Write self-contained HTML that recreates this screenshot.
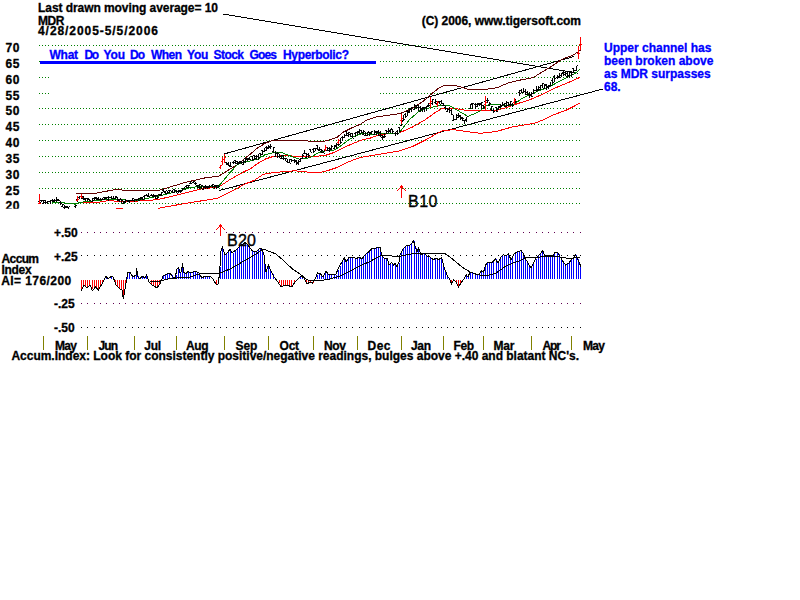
<!DOCTYPE html>
<html><head><meta charset="utf-8"><title>MDR chart</title>
<style>
html,body{margin:0;padding:0;background:#fff;}
svg{display:block;font-family:"Liberation Sans",sans-serif;}
</style></head>
<body>
<svg width="800" height="600" viewBox="0 0 800 600" shape-rendering="crispEdges">
<rect width="800" height="600" fill="#fff"/>
<clipPath id="c"><rect x="0" y="0" width="800" height="208.8"/></clipPath>
<path d="M39 45.5h1M42 45.5h1M45 45.5h1M48 45.5h1M52 45.5h1M55 45.5h1M58 45.5h1M61 45.5h1M64 45.5h1M67 45.5h1M71 45.5h1M74 45.5h1M77 45.5h1M80 45.5h1M83 45.5h1M86 45.5h1M89 45.5h1M93 45.5h1M96 45.5h1M99 45.5h1M102 45.5h1M105 45.5h1M108 45.5h1M112 45.5h1M115 45.5h1M118 45.5h1M121 45.5h1M124 45.5h1M127 45.5h1M131 45.5h1M134 45.5h1M137 45.5h1M140 45.5h1M143 45.5h1M146 45.5h1M149 45.5h1M153 45.5h1M156 45.5h1M159 45.5h1M162 45.5h1M165 45.5h1M168 45.5h1M172 45.5h1M175 45.5h1M178 45.5h1M181 45.5h1M184 45.5h1M187 45.5h1M190 45.5h1M194 45.5h1M197 45.5h1M200 45.5h1M203 45.5h1M206 45.5h1M209 45.5h1M213 45.5h1M216 45.5h1M219 45.5h1M222 45.5h1M225 45.5h1M228 45.5h1M232 45.5h1M235 45.5h1M238 45.5h1M241 45.5h1M244 45.5h1M247 45.5h1M250 45.5h1M254 45.5h1M257 45.5h1M260 45.5h1M263 45.5h1M266 45.5h1M269 45.5h1M273 45.5h1M276 45.5h1M279 45.5h1M282 45.5h1M285 45.5h1M288 45.5h1M291 45.5h1M295 45.5h1M298 45.5h1M301 45.5h1M304 45.5h1M307 45.5h1M310 45.5h1M314 45.5h1M317 45.5h1M320 45.5h1M323 45.5h1M326 45.5h1M329 45.5h1M333 45.5h1M336 45.5h1M339 45.5h1M342 45.5h1M345 45.5h1M348 45.5h1M351 45.5h1M355 45.5h1M358 45.5h1M361 45.5h1M364 45.5h1M367 45.5h1M370 45.5h1M374 45.5h1M377 45.5h1M380 45.5h1M383 45.5h1M386 45.5h1M389 45.5h1M392 45.5h1M396 45.5h1M399 45.5h1M402 45.5h1M405 45.5h1M408 45.5h1M411 45.5h1M415 45.5h1M418 45.5h1M421 45.5h1M424 45.5h1M427 45.5h1M430 45.5h1M434 45.5h1M437 45.5h1M440 45.5h1M443 45.5h1M446 45.5h1M449 45.5h1M452 45.5h1M456 45.5h1M459 45.5h1M462 45.5h1M465 45.5h1M468 45.5h1M471 45.5h1M475 45.5h1M478 45.5h1M481 45.5h1M484 45.5h1M487 45.5h1M490 45.5h1M493 45.5h1M497 45.5h1M500 45.5h1M503 45.5h1M506 45.5h1M509 45.5h1M512 45.5h1M516 45.5h1M519 45.5h1M522 45.5h1M525 45.5h1M528 45.5h1M531 45.5h1M534 45.5h1M538 45.5h1M541 45.5h1M544 45.5h1M547 45.5h1M550 45.5h1M553 45.5h1M557 45.5h1M560 45.5h1M563 45.5h1M566 45.5h1M569 45.5h1M572 45.5h1M576 45.5h1M579 45.5h1" stroke="#008000" stroke-width="1"/>
<path d="M39 61.5h1M380 61.5h1M383 61.5h1M386 61.5h1M389 61.5h1M392 61.5h1M396 61.5h1M399 61.5h1M402 61.5h1M405 61.5h1M408 61.5h1M411 61.5h1M415 61.5h1M418 61.5h1M421 61.5h1M424 61.5h1M427 61.5h1M430 61.5h1M434 61.5h1M437 61.5h1M440 61.5h1M443 61.5h1M446 61.5h1M449 61.5h1M452 61.5h1M456 61.5h1M459 61.5h1M462 61.5h1M465 61.5h1M468 61.5h1M471 61.5h1M475 61.5h1M478 61.5h1M481 61.5h1M484 61.5h1M487 61.5h1M490 61.5h1M493 61.5h1M497 61.5h1M500 61.5h1M503 61.5h1M506 61.5h1M509 61.5h1M512 61.5h1M516 61.5h1M519 61.5h1M522 61.5h1M525 61.5h1M528 61.5h1M531 61.5h1M534 61.5h1M538 61.5h1M541 61.5h1M544 61.5h1M547 61.5h1M550 61.5h1M553 61.5h1M557 61.5h1M560 61.5h1M563 61.5h1M566 61.5h1M569 61.5h1M572 61.5h1M576 61.5h1M579 61.5h1" stroke="#008000" stroke-width="1"/>
<path d="M39 77.5h1M42 77.5h1M45 77.5h1M48 77.5h1M380 77.5h1M383 77.5h1M386 77.5h1M389 77.5h1M392 77.5h1M396 77.5h1M399 77.5h1M402 77.5h1M405 77.5h1M408 77.5h1M411 77.5h1M415 77.5h1M418 77.5h1M421 77.5h1M424 77.5h1M427 77.5h1M430 77.5h1M434 77.5h1M437 77.5h1M440 77.5h1M443 77.5h1M446 77.5h1M449 77.5h1M452 77.5h1M456 77.5h1M459 77.5h1M462 77.5h1M465 77.5h1M468 77.5h1M471 77.5h1M475 77.5h1M478 77.5h1M481 77.5h1M484 77.5h1M487 77.5h1M490 77.5h1M493 77.5h1M497 77.5h1M500 77.5h1M503 77.5h1M506 77.5h1M509 77.5h1M512 77.5h1M516 77.5h1M519 77.5h1M522 77.5h1M525 77.5h1M528 77.5h1M531 77.5h1M534 77.5h1M538 77.5h1M541 77.5h1M544 77.5h1M547 77.5h1M550 77.5h1M553 77.5h1M557 77.5h1M560 77.5h1M563 77.5h1M566 77.5h1M569 77.5h1M572 77.5h1M576 77.5h1M579 77.5h1" stroke="#008000" stroke-width="1"/>
<path d="M39 93.5h1M42 93.5h1M45 93.5h1M48 93.5h1M380 93.5h1M383 93.5h1M386 93.5h1M389 93.5h1M392 93.5h1M396 93.5h1M399 93.5h1M402 93.5h1M405 93.5h1M408 93.5h1M411 93.5h1M415 93.5h1M418 93.5h1M421 93.5h1M424 93.5h1M427 93.5h1M430 93.5h1M434 93.5h1M437 93.5h1M440 93.5h1M443 93.5h1M446 93.5h1M449 93.5h1M452 93.5h1M456 93.5h1M459 93.5h1M462 93.5h1M465 93.5h1M468 93.5h1M471 93.5h1M475 93.5h1M478 93.5h1M481 93.5h1M484 93.5h1M487 93.5h1M490 93.5h1M493 93.5h1M497 93.5h1M500 93.5h1M503 93.5h1M506 93.5h1M509 93.5h1M512 93.5h1M516 93.5h1M519 93.5h1M522 93.5h1M525 93.5h1M528 93.5h1M531 93.5h1M534 93.5h1M538 93.5h1M541 93.5h1M544 93.5h1M547 93.5h1M550 93.5h1M553 93.5h1M557 93.5h1M560 93.5h1M563 93.5h1M566 93.5h1M569 93.5h1M572 93.5h1M576 93.5h1M579 93.5h1" stroke="#008000" stroke-width="1"/>
<path d="M39 108.5h1M42 108.5h1M45 108.5h1M48 108.5h1M52 108.5h1M55 108.5h1M58 108.5h1M61 108.5h1M64 108.5h1M67 108.5h1M71 108.5h1M74 108.5h1M77 108.5h1M80 108.5h1M83 108.5h1M86 108.5h1M89 108.5h1M93 108.5h1M96 108.5h1M99 108.5h1M102 108.5h1M105 108.5h1M108 108.5h1M112 108.5h1M115 108.5h1M118 108.5h1M121 108.5h1M124 108.5h1M127 108.5h1M131 108.5h1M134 108.5h1M137 108.5h1M140 108.5h1M143 108.5h1M146 108.5h1M149 108.5h1M153 108.5h1M156 108.5h1M159 108.5h1M162 108.5h1M165 108.5h1M168 108.5h1M172 108.5h1M175 108.5h1M178 108.5h1M181 108.5h1M184 108.5h1M187 108.5h1M190 108.5h1M194 108.5h1M197 108.5h1M200 108.5h1M203 108.5h1M206 108.5h1M209 108.5h1M213 108.5h1M216 108.5h1M219 108.5h1M222 108.5h1M225 108.5h1M228 108.5h1M232 108.5h1M235 108.5h1M238 108.5h1M241 108.5h1M244 108.5h1M247 108.5h1M250 108.5h1M254 108.5h1M257 108.5h1M260 108.5h1M263 108.5h1M266 108.5h1M269 108.5h1M273 108.5h1M276 108.5h1M279 108.5h1M282 108.5h1M285 108.5h1M288 108.5h1M291 108.5h1M295 108.5h1M298 108.5h1M301 108.5h1M304 108.5h1M307 108.5h1M310 108.5h1M314 108.5h1M317 108.5h1M320 108.5h1M323 108.5h1M326 108.5h1M329 108.5h1M333 108.5h1M336 108.5h1M339 108.5h1M342 108.5h1M345 108.5h1M348 108.5h1M351 108.5h1M355 108.5h1M358 108.5h1M361 108.5h1M364 108.5h1M367 108.5h1M370 108.5h1M374 108.5h1M377 108.5h1M380 108.5h1M383 108.5h1M386 108.5h1M389 108.5h1M392 108.5h1M396 108.5h1M399 108.5h1M402 108.5h1M405 108.5h1M408 108.5h1M411 108.5h1M415 108.5h1M418 108.5h1M421 108.5h1M424 108.5h1M427 108.5h1M430 108.5h1M434 108.5h1M437 108.5h1M440 108.5h1M443 108.5h1M446 108.5h1M449 108.5h1M452 108.5h1M456 108.5h1M459 108.5h1M462 108.5h1M465 108.5h1M468 108.5h1M471 108.5h1M475 108.5h1M478 108.5h1M481 108.5h1M484 108.5h1M487 108.5h1M490 108.5h1M493 108.5h1M497 108.5h1M500 108.5h1M503 108.5h1M506 108.5h1M509 108.5h1M512 108.5h1M516 108.5h1M519 108.5h1M522 108.5h1M525 108.5h1M528 108.5h1M531 108.5h1M534 108.5h1M538 108.5h1M541 108.5h1M544 108.5h1M547 108.5h1M550 108.5h1M553 108.5h1M557 108.5h1M560 108.5h1M563 108.5h1M566 108.5h1M569 108.5h1M572 108.5h1M576 108.5h1M579 108.5h1" stroke="#008000" stroke-width="1"/>
<path d="M39 124.5h1M42 124.5h1M45 124.5h1M48 124.5h1M52 124.5h1M55 124.5h1M58 124.5h1M61 124.5h1M64 124.5h1M67 124.5h1M71 124.5h1M74 124.5h1M77 124.5h1M80 124.5h1M83 124.5h1M86 124.5h1M89 124.5h1M93 124.5h1M96 124.5h1M99 124.5h1M102 124.5h1M105 124.5h1M108 124.5h1M112 124.5h1M115 124.5h1M118 124.5h1M121 124.5h1M124 124.5h1M127 124.5h1M131 124.5h1M134 124.5h1M137 124.5h1M140 124.5h1M143 124.5h1M146 124.5h1M149 124.5h1M153 124.5h1M156 124.5h1M159 124.5h1M162 124.5h1M165 124.5h1M168 124.5h1M172 124.5h1M175 124.5h1M178 124.5h1M181 124.5h1M184 124.5h1M187 124.5h1M190 124.5h1M194 124.5h1M197 124.5h1M200 124.5h1M203 124.5h1M206 124.5h1M209 124.5h1M213 124.5h1M216 124.5h1M219 124.5h1M222 124.5h1M225 124.5h1M228 124.5h1M232 124.5h1M235 124.5h1M238 124.5h1M241 124.5h1M244 124.5h1M247 124.5h1M250 124.5h1M254 124.5h1M257 124.5h1M260 124.5h1M263 124.5h1M266 124.5h1M269 124.5h1M273 124.5h1M276 124.5h1M279 124.5h1M282 124.5h1M285 124.5h1M288 124.5h1M291 124.5h1M295 124.5h1M298 124.5h1M301 124.5h1M304 124.5h1M307 124.5h1M310 124.5h1M314 124.5h1M317 124.5h1M320 124.5h1M323 124.5h1M326 124.5h1M329 124.5h1M333 124.5h1M336 124.5h1M339 124.5h1M342 124.5h1M345 124.5h1M348 124.5h1M351 124.5h1M355 124.5h1M358 124.5h1M361 124.5h1M364 124.5h1M367 124.5h1M370 124.5h1M374 124.5h1M377 124.5h1M380 124.5h1M383 124.5h1M386 124.5h1M389 124.5h1M392 124.5h1M396 124.5h1M399 124.5h1M402 124.5h1M405 124.5h1M408 124.5h1M411 124.5h1M415 124.5h1M418 124.5h1M421 124.5h1M424 124.5h1M427 124.5h1M430 124.5h1M434 124.5h1M437 124.5h1M440 124.5h1M443 124.5h1M446 124.5h1M449 124.5h1M452 124.5h1M456 124.5h1M459 124.5h1M462 124.5h1M465 124.5h1M468 124.5h1M471 124.5h1M475 124.5h1M478 124.5h1M481 124.5h1M484 124.5h1M487 124.5h1M490 124.5h1M493 124.5h1M497 124.5h1M500 124.5h1M503 124.5h1M506 124.5h1M509 124.5h1M512 124.5h1M516 124.5h1M519 124.5h1M522 124.5h1M525 124.5h1M528 124.5h1M531 124.5h1M534 124.5h1M538 124.5h1M541 124.5h1M544 124.5h1M547 124.5h1M550 124.5h1M553 124.5h1M557 124.5h1M560 124.5h1M563 124.5h1M566 124.5h1M569 124.5h1M572 124.5h1M576 124.5h1M579 124.5h1" stroke="#008000" stroke-width="1"/>
<path d="M39 140.5h1M42 140.5h1M45 140.5h1M48 140.5h1M52 140.5h1M55 140.5h1M58 140.5h1M61 140.5h1M64 140.5h1M67 140.5h1M71 140.5h1M74 140.5h1M77 140.5h1M80 140.5h1M83 140.5h1M86 140.5h1M89 140.5h1M93 140.5h1M96 140.5h1M99 140.5h1M102 140.5h1M105 140.5h1M108 140.5h1M112 140.5h1M115 140.5h1M118 140.5h1M121 140.5h1M124 140.5h1M127 140.5h1M131 140.5h1M134 140.5h1M137 140.5h1M140 140.5h1M143 140.5h1M146 140.5h1M149 140.5h1M153 140.5h1M156 140.5h1M159 140.5h1M162 140.5h1M165 140.5h1M168 140.5h1M172 140.5h1M175 140.5h1M178 140.5h1M181 140.5h1M184 140.5h1M187 140.5h1M190 140.5h1M194 140.5h1M197 140.5h1M200 140.5h1M203 140.5h1M206 140.5h1M209 140.5h1M213 140.5h1M216 140.5h1M219 140.5h1M222 140.5h1M225 140.5h1M228 140.5h1M232 140.5h1M235 140.5h1M238 140.5h1M241 140.5h1M244 140.5h1M247 140.5h1M250 140.5h1M254 140.5h1M257 140.5h1M260 140.5h1M263 140.5h1M266 140.5h1M269 140.5h1M273 140.5h1M276 140.5h1M279 140.5h1M282 140.5h1M285 140.5h1M288 140.5h1M291 140.5h1M295 140.5h1M298 140.5h1M301 140.5h1M304 140.5h1M307 140.5h1M310 140.5h1M314 140.5h1M317 140.5h1M320 140.5h1M323 140.5h1M326 140.5h1M329 140.5h1M333 140.5h1M336 140.5h1M339 140.5h1M342 140.5h1M345 140.5h1M348 140.5h1M351 140.5h1M355 140.5h1M358 140.5h1M361 140.5h1M364 140.5h1M367 140.5h1M370 140.5h1M374 140.5h1M377 140.5h1M380 140.5h1M383 140.5h1M386 140.5h1M389 140.5h1M392 140.5h1M396 140.5h1M399 140.5h1M402 140.5h1M405 140.5h1M408 140.5h1M411 140.5h1M415 140.5h1M418 140.5h1M421 140.5h1M424 140.5h1M427 140.5h1M430 140.5h1M434 140.5h1M437 140.5h1M440 140.5h1M443 140.5h1M446 140.5h1M449 140.5h1M452 140.5h1M456 140.5h1M459 140.5h1M462 140.5h1M465 140.5h1M468 140.5h1M471 140.5h1M475 140.5h1M478 140.5h1M481 140.5h1M484 140.5h1M487 140.5h1M490 140.5h1M493 140.5h1M497 140.5h1M500 140.5h1M503 140.5h1M506 140.5h1M509 140.5h1M512 140.5h1M516 140.5h1M519 140.5h1M522 140.5h1M525 140.5h1M528 140.5h1M531 140.5h1M534 140.5h1M538 140.5h1M541 140.5h1M544 140.5h1M547 140.5h1M550 140.5h1M553 140.5h1M557 140.5h1M560 140.5h1M563 140.5h1M566 140.5h1M569 140.5h1M572 140.5h1M576 140.5h1M579 140.5h1" stroke="#008000" stroke-width="1"/>
<path d="M39 156.5h1M42 156.5h1M45 156.5h1M48 156.5h1M52 156.5h1M55 156.5h1M58 156.5h1M61 156.5h1M64 156.5h1M67 156.5h1M71 156.5h1M74 156.5h1M77 156.5h1M80 156.5h1M83 156.5h1M86 156.5h1M89 156.5h1M93 156.5h1M96 156.5h1M99 156.5h1M102 156.5h1M105 156.5h1M108 156.5h1M112 156.5h1M115 156.5h1M118 156.5h1M121 156.5h1M124 156.5h1M127 156.5h1M131 156.5h1M134 156.5h1M137 156.5h1M140 156.5h1M143 156.5h1M146 156.5h1M149 156.5h1M153 156.5h1M156 156.5h1M159 156.5h1M162 156.5h1M165 156.5h1M168 156.5h1M172 156.5h1M175 156.5h1M178 156.5h1M181 156.5h1M184 156.5h1M187 156.5h1M190 156.5h1M194 156.5h1M197 156.5h1M200 156.5h1M203 156.5h1M206 156.5h1M209 156.5h1M213 156.5h1M216 156.5h1M219 156.5h1M222 156.5h1M225 156.5h1M228 156.5h1M232 156.5h1M235 156.5h1M238 156.5h1M241 156.5h1M244 156.5h1M247 156.5h1M250 156.5h1M254 156.5h1M257 156.5h1M260 156.5h1M263 156.5h1M266 156.5h1M269 156.5h1M273 156.5h1M276 156.5h1M279 156.5h1M282 156.5h1M285 156.5h1M288 156.5h1M291 156.5h1M295 156.5h1M298 156.5h1M301 156.5h1M304 156.5h1M307 156.5h1M310 156.5h1M314 156.5h1M317 156.5h1M320 156.5h1M323 156.5h1M326 156.5h1M329 156.5h1M333 156.5h1M336 156.5h1M339 156.5h1M342 156.5h1M345 156.5h1M348 156.5h1M351 156.5h1M355 156.5h1M358 156.5h1M361 156.5h1M364 156.5h1M367 156.5h1M370 156.5h1M374 156.5h1M377 156.5h1M380 156.5h1M383 156.5h1M386 156.5h1M389 156.5h1M392 156.5h1M396 156.5h1M399 156.5h1M402 156.5h1M405 156.5h1M408 156.5h1M411 156.5h1M415 156.5h1M418 156.5h1M421 156.5h1M424 156.5h1M427 156.5h1M430 156.5h1M434 156.5h1M437 156.5h1M440 156.5h1M443 156.5h1M446 156.5h1M449 156.5h1M452 156.5h1M456 156.5h1M459 156.5h1M462 156.5h1M465 156.5h1M468 156.5h1M471 156.5h1M475 156.5h1M478 156.5h1M481 156.5h1M484 156.5h1M487 156.5h1M490 156.5h1M493 156.5h1M497 156.5h1M500 156.5h1M503 156.5h1M506 156.5h1M509 156.5h1M512 156.5h1M516 156.5h1M519 156.5h1M522 156.5h1M525 156.5h1M528 156.5h1M531 156.5h1M534 156.5h1M538 156.5h1M541 156.5h1M544 156.5h1M547 156.5h1M550 156.5h1M553 156.5h1M557 156.5h1M560 156.5h1M563 156.5h1M566 156.5h1M569 156.5h1M572 156.5h1M576 156.5h1M579 156.5h1" stroke="#008000" stroke-width="1"/>
<path d="M39 172.5h1M42 172.5h1M45 172.5h1M48 172.5h1M52 172.5h1M55 172.5h1M58 172.5h1M61 172.5h1M64 172.5h1M67 172.5h1M71 172.5h1M74 172.5h1M77 172.5h1M80 172.5h1M83 172.5h1M86 172.5h1M89 172.5h1M93 172.5h1M96 172.5h1M99 172.5h1M102 172.5h1M105 172.5h1M108 172.5h1M112 172.5h1M115 172.5h1M118 172.5h1M121 172.5h1M124 172.5h1M127 172.5h1M131 172.5h1M134 172.5h1M137 172.5h1M140 172.5h1M143 172.5h1M146 172.5h1M149 172.5h1M153 172.5h1M156 172.5h1M159 172.5h1M162 172.5h1M165 172.5h1M168 172.5h1M172 172.5h1M175 172.5h1M178 172.5h1M181 172.5h1M184 172.5h1M187 172.5h1M190 172.5h1M194 172.5h1M197 172.5h1M200 172.5h1M203 172.5h1M206 172.5h1M209 172.5h1M213 172.5h1M216 172.5h1M219 172.5h1M222 172.5h1M225 172.5h1M228 172.5h1M232 172.5h1M235 172.5h1M238 172.5h1M241 172.5h1M244 172.5h1M247 172.5h1M250 172.5h1M254 172.5h1M257 172.5h1M260 172.5h1M263 172.5h1M266 172.5h1M269 172.5h1M273 172.5h1M276 172.5h1M279 172.5h1M282 172.5h1M285 172.5h1M288 172.5h1M291 172.5h1M295 172.5h1M298 172.5h1M301 172.5h1M304 172.5h1M307 172.5h1M310 172.5h1M314 172.5h1M317 172.5h1M320 172.5h1M323 172.5h1M326 172.5h1M329 172.5h1M333 172.5h1M336 172.5h1M339 172.5h1M342 172.5h1M345 172.5h1M348 172.5h1M351 172.5h1M355 172.5h1M358 172.5h1M361 172.5h1M364 172.5h1M367 172.5h1M370 172.5h1M374 172.5h1M377 172.5h1M380 172.5h1M383 172.5h1M386 172.5h1M389 172.5h1M392 172.5h1M396 172.5h1M399 172.5h1M402 172.5h1M405 172.5h1M408 172.5h1M411 172.5h1M415 172.5h1M418 172.5h1M421 172.5h1M424 172.5h1M427 172.5h1M430 172.5h1M434 172.5h1M437 172.5h1M440 172.5h1M443 172.5h1M446 172.5h1M449 172.5h1M452 172.5h1M456 172.5h1M459 172.5h1M462 172.5h1M465 172.5h1M468 172.5h1M471 172.5h1M475 172.5h1M478 172.5h1M481 172.5h1M484 172.5h1M487 172.5h1M490 172.5h1M493 172.5h1M497 172.5h1M500 172.5h1M503 172.5h1M506 172.5h1M509 172.5h1M512 172.5h1M516 172.5h1M519 172.5h1M522 172.5h1M525 172.5h1M528 172.5h1M531 172.5h1M534 172.5h1M538 172.5h1M541 172.5h1M544 172.5h1M547 172.5h1M550 172.5h1M553 172.5h1M557 172.5h1M560 172.5h1M563 172.5h1M566 172.5h1M569 172.5h1M572 172.5h1M576 172.5h1M579 172.5h1" stroke="#008000" stroke-width="1"/>
<path d="M39 188.5h1M42 188.5h1M45 188.5h1M48 188.5h1M52 188.5h1M55 188.5h1M58 188.5h1M61 188.5h1M64 188.5h1M67 188.5h1M71 188.5h1M74 188.5h1M77 188.5h1M80 188.5h1M83 188.5h1M86 188.5h1M89 188.5h1M93 188.5h1M96 188.5h1M99 188.5h1M102 188.5h1M105 188.5h1M108 188.5h1M112 188.5h1M115 188.5h1M118 188.5h1M121 188.5h1M124 188.5h1M127 188.5h1M131 188.5h1M134 188.5h1M137 188.5h1M140 188.5h1M143 188.5h1M146 188.5h1M149 188.5h1M153 188.5h1M156 188.5h1M159 188.5h1M162 188.5h1M165 188.5h1M168 188.5h1M172 188.5h1M175 188.5h1M178 188.5h1M181 188.5h1M184 188.5h1M187 188.5h1M190 188.5h1M194 188.5h1M197 188.5h1M200 188.5h1M203 188.5h1M206 188.5h1M209 188.5h1M213 188.5h1M216 188.5h1M219 188.5h1M222 188.5h1M225 188.5h1M228 188.5h1M232 188.5h1M235 188.5h1M238 188.5h1M241 188.5h1M244 188.5h1M247 188.5h1M250 188.5h1M254 188.5h1M257 188.5h1M260 188.5h1M263 188.5h1M266 188.5h1M269 188.5h1M273 188.5h1M276 188.5h1M279 188.5h1M282 188.5h1M285 188.5h1M288 188.5h1M291 188.5h1M295 188.5h1M298 188.5h1M301 188.5h1M304 188.5h1M307 188.5h1M310 188.5h1M314 188.5h1M317 188.5h1M320 188.5h1M323 188.5h1M326 188.5h1M329 188.5h1M333 188.5h1M336 188.5h1M339 188.5h1M342 188.5h1M345 188.5h1M348 188.5h1M351 188.5h1M355 188.5h1M358 188.5h1M361 188.5h1M364 188.5h1M367 188.5h1M370 188.5h1M374 188.5h1M377 188.5h1M380 188.5h1M383 188.5h1M386 188.5h1M389 188.5h1M392 188.5h1M396 188.5h1M399 188.5h1M402 188.5h1M405 188.5h1M408 188.5h1M411 188.5h1M415 188.5h1M418 188.5h1M421 188.5h1M424 188.5h1M427 188.5h1M430 188.5h1M434 188.5h1M437 188.5h1M440 188.5h1M443 188.5h1M446 188.5h1M449 188.5h1M452 188.5h1M456 188.5h1M459 188.5h1M462 188.5h1M465 188.5h1M468 188.5h1M471 188.5h1M475 188.5h1M478 188.5h1M481 188.5h1M484 188.5h1M487 188.5h1M490 188.5h1M493 188.5h1M497 188.5h1M500 188.5h1M503 188.5h1M506 188.5h1M509 188.5h1M512 188.5h1M516 188.5h1M519 188.5h1M522 188.5h1M525 188.5h1M528 188.5h1M531 188.5h1M534 188.5h1M538 188.5h1M541 188.5h1M544 188.5h1M547 188.5h1M550 188.5h1M553 188.5h1M557 188.5h1M560 188.5h1M563 188.5h1M566 188.5h1M569 188.5h1M572 188.5h1M576 188.5h1M579 188.5h1" stroke="#008000" stroke-width="1"/>
<path d="M39 203.5h1M42 203.5h1M45 203.5h1M48 203.5h1M52 203.5h1M55 203.5h1M58 203.5h1M61 203.5h1M64 203.5h1M67 203.5h1M71 203.5h1M74 203.5h1M77 203.5h1M80 203.5h1M83 203.5h1M86 203.5h1M89 203.5h1M93 203.5h1M96 203.5h1M99 203.5h1M102 203.5h1M105 203.5h1M108 203.5h1M112 203.5h1M115 203.5h1M118 203.5h1M121 203.5h1M124 203.5h1M127 203.5h1M131 203.5h1M134 203.5h1M137 203.5h1M140 203.5h1M143 203.5h1M146 203.5h1M149 203.5h1M153 203.5h1M156 203.5h1M159 203.5h1M162 203.5h1M165 203.5h1M168 203.5h1M172 203.5h1M175 203.5h1M178 203.5h1M181 203.5h1M184 203.5h1M187 203.5h1M190 203.5h1M194 203.5h1M197 203.5h1M200 203.5h1M203 203.5h1M206 203.5h1M209 203.5h1M213 203.5h1M216 203.5h1M219 203.5h1M222 203.5h1M225 203.5h1M228 203.5h1M232 203.5h1M235 203.5h1M238 203.5h1M241 203.5h1M244 203.5h1M247 203.5h1M250 203.5h1M254 203.5h1M257 203.5h1M260 203.5h1M263 203.5h1M266 203.5h1M269 203.5h1M273 203.5h1M276 203.5h1M279 203.5h1M282 203.5h1M285 203.5h1M288 203.5h1M291 203.5h1M295 203.5h1M298 203.5h1M301 203.5h1M304 203.5h1M307 203.5h1M310 203.5h1M314 203.5h1M317 203.5h1M320 203.5h1M323 203.5h1M326 203.5h1M329 203.5h1M333 203.5h1M336 203.5h1M339 203.5h1M342 203.5h1M345 203.5h1M348 203.5h1M351 203.5h1M355 203.5h1M358 203.5h1M361 203.5h1M364 203.5h1M367 203.5h1M370 203.5h1M374 203.5h1M377 203.5h1M380 203.5h1M383 203.5h1M386 203.5h1M389 203.5h1M392 203.5h1M396 203.5h1M399 203.5h1M402 203.5h1M405 203.5h1M408 203.5h1M411 203.5h1M415 203.5h1M418 203.5h1M421 203.5h1M424 203.5h1M427 203.5h1M430 203.5h1M434 203.5h1M437 203.5h1M440 203.5h1M443 203.5h1M446 203.5h1M449 203.5h1M452 203.5h1M456 203.5h1M459 203.5h1M462 203.5h1M465 203.5h1M468 203.5h1M471 203.5h1M475 203.5h1M478 203.5h1M481 203.5h1M484 203.5h1M487 203.5h1M490 203.5h1M493 203.5h1M497 203.5h1M500 203.5h1M503 203.5h1M506 203.5h1M509 203.5h1M512 203.5h1M516 203.5h1M519 203.5h1M522 203.5h1M525 203.5h1M528 203.5h1M531 203.5h1M534 203.5h1M538 203.5h1M541 203.5h1M544 203.5h1M547 203.5h1M550 203.5h1M553 203.5h1M557 203.5h1M560 203.5h1M563 203.5h1M566 203.5h1M569 203.5h1M572 203.5h1M576 203.5h1M579 203.5h1" stroke="#008000" stroke-width="1"/>
<line x1="223" y1="14" x2="578" y2="73.2" stroke="#000" stroke-width="1"/>
<line x1="224" y1="154" x2="574" y2="56.5" stroke="#000" stroke-width="1"/>
<line x1="219.5" y1="190.5" x2="603" y2="89" stroke="#000" stroke-width="1"/>
<polyline points="75.7,193.2 96.0,193.2 117.0,189.2 123.0,190.2 158.0,190.7 185.0,182.5 204.5,178.0 218.7,176.2 237.5,164.5 250.0,154.3 257.5,148.0 265.0,143.5 272.5,140.5 307.0,140.5 310.0,141.7 322.0,141.7 328.0,140.2 337.0,137.5 343.0,132.2 352.0,127.7 361.0,124.0 365.5,120.7 375.0,117.2 390.0,115.0 400.5,113.5 412.5,108.2 423.0,101.5 430.5,94.7 438.0,88.7 444.0,85.3 453.0,85.0 459.0,86.5 468.0,89.2 477.5,89.2 485.0,89.5 497.0,87.7 507.5,83.2 519.5,80.2 533.0,77.7 542.0,72.0 551.0,66.7 560.0,60.7 565.0,58.1 570.0,56.5 574.0,54.7 577.0,52.5 580.4,50.0" fill="none" stroke="#600000" stroke-width="1" />
<polyline points="116.0,208.2 123.0,208.2" fill="none" stroke="#ff0000" stroke-width="1" />
<polyline points="158.0,208.3 185.0,203.5 218.0,198.2 230.0,192.2 245.0,184.0 254.5,180.2 263.5,174.2 272.5,172.7 283.0,171.7 295.0,170.8 307.0,172.0 322.0,172.0 328.0,170.5 337.0,167.5 346.0,163.0 355.0,159.2 364.0,156.7 372.0,155.5 399.0,151.0 412.5,146.5 424.5,140.5 438.0,133.0 442.0,131.0 453.5,129.6 467.0,131.6 480.5,133.3 496.0,131.6 512.0,127.0 534.5,123.3 543.5,119.7 554.0,114.7 566.0,110.2 575.0,105.7 580.2,103.0" fill="none" stroke="#ff0000" stroke-width="1" />
<polyline points="81.0,202.9 99.0,202.9 100.0,201.9 108.0,200.8 120.0,201.2 140.0,201.0 158.0,199.6 185.0,193.0 203.0,188.5 218.0,187.5 230.0,179.5 245.0,171.2 250.0,169.0 257.5,163.7 265.0,159.2 272.5,156.7 283.0,155.5 295.0,156.2 310.0,156.7 325.0,155.5 334.0,152.5 346.0,146.5 355.0,142.7 362.0,140.0 370.0,138.2 379.5,134.5 399.0,133.0 412.5,127.0 424.5,120.2 435.0,112.7 442.5,108.2 453.0,108.2 465.0,110.2 480.0,110.8 485.0,111.0 497.0,110.2 507.5,107.2 518.0,103.5 530.0,99.7 542.0,94.5 554.0,88.5 563.0,84.7 572.0,81.0 580.2,77.2" fill="none" stroke="#ff0000" stroke-width="1" />
<polyline points="52.0,202.0 64.0,202.4 65.0,203.3 70.0,203.5 75.0,204.2 81.0,202.2 90.0,201.2 105.0,199.7 117.0,199.0 126.0,200.0 135.0,200.7 144.0,199.2 150.0,197.7 162.5,195.2 177.5,191.5 189.5,187.7 197.0,186.7 218.0,187.0 230.0,172.7 237.5,164.5 245.0,162.2 257.5,159.2 265.0,154.7 274.0,152.5 281.5,152.5 289.0,155.5 299.5,159.2 310.0,157.7 317.5,153.2 325.0,151.0 334.0,150.2 340.0,146.5 349.0,139.7 355.0,136.0 362.5,133.3 370.0,134.5 379.5,133.7 399.0,133.0 409.5,119.5 420.0,110.5 430.5,107.5 441.0,105.2 450.0,106.0 459.0,111.2 468.0,116.5 479.0,111.7 485.0,106.5 489.5,104.2 500.0,105.0 513.5,105.0 521.0,99.0 530.0,94.5 539.0,90.7 548.0,87.7 557.0,82.5 566.0,78.0 575.0,73.5 580.2,69.3" fill="none" stroke="#008000" stroke-width="1" />
<path d="M39.5 200.3V203.7M39.5 202.3h1.5M39.5 201.8h-1.5M41.5 199.7V201.9M41.5 200.0h1.5M41.5 200.0h-1.5M43.5 199.8V202.8M43.5 202.0h1.5M43.5 203.0h-1.5M45.5 199.5V203.6M45.5 202.7h1.5M45.5 200.9h-1.5M47.5 201.3V203.5M47.5 201.5h1.5M47.5 202.5h-1.5M50.5 199.9V203.6M50.5 200.5h1.5M50.5 201.0h-1.5M52.5 199.1V202.2M52.5 200.5h1.5M52.5 200.0h-1.5M54.5 198.5V201.6M54.5 200.2h1.5M54.5 201.5h-1.5M56.5 197.2V201.5M56.5 199.0h1.5M56.5 200.2h-1.5M58.5 198.7V200.7M58.5 200.6h1.5M58.5 200.0h-1.5M60.5 201.2V204.8M60.5 203.1h1.5M60.5 202.7h-1.5M62.5 204.0V207.2M62.5 204.1h1.5M62.5 206.2h-1.5M64.5 205.3V209.0M64.5 206.7h1.5M64.5 207.6h-1.5M66.5 205.6V208.1M66.5 206.2h1.5M66.5 207.9h-1.5M68.5 206.6V208.7M68.5 206.4h1.5M68.5 207.4h-1.5M75.5 205.3V208.3M75.5 205.8h1.5M75.5 206.2h-1.5M77.5 198.6V202.4M77.5 199.5h1.5M77.5 199.6h-1.5M79.5 195.8V198.9M79.5 196.0h1.5M79.5 197.2h-1.5M81.5 195.2V198.5M81.5 196.5h1.5M81.5 196.8h-1.5M83.5 196.3V199.8M83.5 199.0h1.5M83.5 198.7h-1.5M85.5 198.1V200.5M85.5 198.1h1.5M85.5 198.1h-1.5M87.5 197.9V200.9M87.5 198.3h1.5M87.5 198.7h-1.5M89.5 199.5V201.3M89.5 200.7h1.5M89.5 199.5h-1.5M92.5 198.0V201.0M92.5 200.7h1.5M92.5 201.2h-1.5M94.5 196.9V200.0M94.5 198.4h1.5M94.5 198.1h-1.5M96.5 197.0V199.6M96.5 198.4h1.5M96.5 197.0h-1.5M98.5 197.3V200.1M98.5 199.6h1.5M98.5 199.1h-1.5M100.5 197.9V200.1M100.5 199.1h1.5M100.5 199.8h-1.5M102.5 197.6V200.4M102.5 199.6h1.5M102.5 199.5h-1.5M104.5 196.9V200.2M104.5 198.2h1.5M104.5 197.0h-1.5M106.5 196.7V198.8M106.5 199.0h1.5M106.5 197.7h-1.5M108.5 196.1V200.5M108.5 197.1h1.5M108.5 197.1h-1.5M111.5 196.1V198.6M111.5 198.1h1.5M111.5 197.1h-1.5M113.5 195.9V198.7M113.5 198.8h1.5M113.5 198.4h-1.5M115.5 196.0V198.9M115.5 196.9h1.5M115.5 198.5h-1.5M117.5 197.4V200.6M117.5 199.6h1.5M117.5 197.6h-1.5M119.5 198.9V201.6M119.5 198.9h1.5M119.5 200.7h-1.5M121.5 199.6V203.1M121.5 200.0h1.5M121.5 199.6h-1.5M123.5 200.9V204.2M123.5 202.1h1.5M123.5 203.7h-1.5M125.5 199.2V202.7M125.5 200.2h1.5M125.5 201.5h-1.5M127.5 199.7V201.7M127.5 200.3h1.5M127.5 200.5h-1.5M129.5 199.7V202.5M129.5 200.9h1.5M129.5 201.0h-1.5M132.5 197.9V201.4M132.5 198.3h1.5M132.5 200.8h-1.5M134.5 198.8V201.7M134.5 199.6h1.5M134.5 200.1h-1.5M136.5 198.5V201.3M136.5 199.3h1.5M136.5 199.4h-1.5M138.5 197.8V201.1M138.5 200.7h1.5M138.5 199.1h-1.5M140.5 197.3V200.4M140.5 198.6h1.5M140.5 198.9h-1.5M142.5 197.0V200.0M142.5 199.6h1.5M142.5 197.5h-1.5M144.5 194.8V198.8M144.5 195.6h1.5M144.5 196.6h-1.5M146.5 193.7V195.8M146.5 195.6h1.5M146.5 195.9h-1.5M148.5 193.3V196.6M148.5 196.1h1.5M148.5 196.3h-1.5M151.5 193.5V196.3M151.5 196.4h1.5M151.5 195.9h-1.5M153.5 194.3V197.2M153.5 195.0h1.5M153.5 195.3h-1.5M155.5 195.0V198.6M155.5 195.2h1.5M155.5 196.2h-1.5M157.5 195.4V197.8M157.5 197.5h1.5M157.5 198.2h-1.5M159.5 194.2V196.1M159.5 194.6h1.5M159.5 194.3h-1.5M161.5 191.8V195.5M161.5 192.5h1.5M161.5 195.0h-1.5M163.5 188.8V192.2M163.5 191.6h1.5M163.5 190.7h-1.5M165.5 190.9V193.5M165.5 190.9h1.5M165.5 192.9h-1.5M167.5 191.0V193.8M167.5 192.7h1.5M167.5 193.7h-1.5M169.5 189.9V193.1M169.5 190.5h1.5M169.5 190.6h-1.5M172.5 190.0V192.7M172.5 192.2h1.5M172.5 191.0h-1.5M174.5 189.2V192.9M174.5 190.5h1.5M174.5 189.8h-1.5M176.5 189.7V193.1M176.5 193.1h1.5M176.5 190.1h-1.5M178.5 189.5V192.9M178.5 190.7h1.5M178.5 191.1h-1.5M180.5 189.7V192.8M180.5 191.9h1.5M180.5 191.7h-1.5M182.5 188.2V191.3M182.5 188.8h1.5M182.5 190.9h-1.5M184.5 187.2V189.4M184.5 189.4h1.5M184.5 188.8h-1.5M186.5 184.8V187.7M186.5 185.4h1.5M186.5 186.2h-1.5M188.5 184.7V188.2M188.5 185.4h1.5M188.5 187.6h-1.5M190.5 181.3V184.1M190.5 183.0h1.5M190.5 183.0h-1.5M193.5 180.6V183.3M193.5 181.1h1.5M193.5 182.0h-1.5M195.5 181.8V184.6M195.5 183.7h1.5M195.5 183.5h-1.5M197.5 184.6V188.3M197.5 185.7h1.5M197.5 185.5h-1.5M199.5 184.3V188.5M199.5 184.3h1.5M199.5 187.6h-1.5M201.5 185.4V189.3M201.5 185.6h1.5M201.5 187.2h-1.5M203.5 186.3V189.6M203.5 187.9h1.5M203.5 189.0h-1.5M205.5 185.0V188.9M205.5 186.0h1.5M205.5 186.8h-1.5M207.5 186.1V188.8M207.5 187.7h1.5M207.5 187.9h-1.5M209.5 184.9V188.4M209.5 186.4h1.5M209.5 186.5h-1.5M212.5 184.2V188.4M212.5 184.8h1.5M212.5 185.4h-1.5M214.5 185.1V188.6M214.5 186.5h1.5M214.5 186.0h-1.5M216.5 185.5V189.0M216.5 187.5h1.5M216.5 185.7h-1.5M218.5 185.1V188.4M218.5 186.9h1.5M218.5 185.4h-1.5M226.5 162.2V165.1M226.5 164.0h1.5M226.5 162.9h-1.5M228.5 161.8V166.0M228.5 165.6h1.5M228.5 163.0h-1.5M230.5 162.1V166.4M230.5 166.0h1.5M230.5 166.8h-1.5M233.5 160.5V163.6M233.5 160.9h1.5M233.5 162.3h-1.5M235.5 160.4V164.4M235.5 163.4h1.5M235.5 162.4h-1.5M237.5 161.3V165.3M237.5 163.2h1.5M237.5 161.1h-1.5M239.5 161.4V164.4M239.5 162.0h1.5M239.5 162.6h-1.5M241.5 161.5V164.3M241.5 164.2h1.5M241.5 161.7h-1.5M243.5 159.9V165.3M243.5 161.9h1.5M243.5 162.0h-1.5M245.5 158.4V163.2M245.5 159.8h1.5M245.5 158.7h-1.5M247.5 158.3V160.8M247.5 158.6h1.5M247.5 158.7h-1.5M249.5 156.5V159.9M249.5 159.5h1.5M249.5 159.2h-1.5M252.5 156.4V161.0M252.5 159.4h1.5M252.5 156.5h-1.5M254.5 155.6V160.2M254.5 156.8h1.5M254.5 155.7h-1.5M256.5 154.7V159.7M256.5 156.3h1.5M256.5 158.5h-1.5M258.5 154.4V159.7M258.5 157.3h1.5M258.5 156.5h-1.5M260.5 153.0V155.6M260.5 154.2h1.5M260.5 153.3h-1.5M262.5 149.9V155.2M262.5 151.2h1.5M262.5 150.7h-1.5M264.5 147.8V151.5M264.5 150.2h1.5M264.5 151.4h-1.5M266.5 146.3V150.9M266.5 148.0h1.5M266.5 147.8h-1.5M268.5 145.1V149.1M268.5 147.1h1.5M268.5 147.5h-1.5M270.5 144.4V149.4M270.5 146.7h1.5M270.5 146.9h-1.5M273.5 146.9V152.9M273.5 147.6h1.5M273.5 151.1h-1.5M275.5 151.2V156.7M275.5 153.6h1.5M275.5 156.2h-1.5M277.5 152.4V157.9M277.5 153.2h1.5M277.5 153.4h-1.5M279.5 153.6V157.9M279.5 156.0h1.5M279.5 156.5h-1.5M281.5 154.7V157.8M281.5 155.3h1.5M281.5 158.0h-1.5M283.5 155.4V159.6M283.5 158.4h1.5M283.5 158.7h-1.5M285.5 157.8V160.9M285.5 158.9h1.5M285.5 158.4h-1.5M287.5 158.7V162.7M287.5 162.7h1.5M287.5 161.4h-1.5M289.5 158.6V163.3M289.5 163.4h1.5M289.5 162.2h-1.5M291.5 158.9V162.2M291.5 160.2h1.5M291.5 159.6h-1.5M294.5 158.6V163.0M294.5 160.5h1.5M294.5 160.9h-1.5M296.5 160.4V164.7M296.5 162.3h1.5M296.5 161.0h-1.5M298.5 159.6V165.0M298.5 161.0h1.5M298.5 163.6h-1.5M300.5 157.7V161.6M300.5 158.8h1.5M300.5 159.5h-1.5M302.5 154.0V158.1M302.5 155.0h1.5M302.5 158.4h-1.5M304.5 150.4V153.4M304.5 153.5h1.5M304.5 153.4h-1.5M306.5 153.0V158.2M306.5 154.1h1.5M306.5 157.5h-1.5M308.5 153.3V158.1M308.5 155.1h1.5M308.5 154.9h-1.5M310.5 149.1V152.4M310.5 152.5h1.5M310.5 149.7h-1.5M313.5 147.8V152.5M313.5 151.7h1.5M313.5 149.7h-1.5M315.5 148.1V150.6M315.5 148.2h1.5M315.5 148.8h-1.5M317.5 145.4V150.1M317.5 149.0h1.5M317.5 145.3h-1.5M319.5 146.9V150.7M319.5 149.5h1.5M319.5 150.0h-1.5M321.5 149.2V153.3M321.5 150.1h1.5M321.5 151.8h-1.5M323.5 150.5V153.4M323.5 153.6h1.5M323.5 152.5h-1.5M325.5 145.3V150.2M325.5 150.3h1.5M325.5 150.3h-1.5M327.5 146.9V150.7M327.5 150.5h1.5M327.5 147.6h-1.5M329.5 146.9V151.8M329.5 149.6h1.5M329.5 148.2h-1.5M331.5 145.3V149.8M331.5 146.5h1.5M331.5 148.5h-1.5M334.5 144.5V147.6M334.5 145.6h1.5M334.5 148.0h-1.5M336.5 143.2V148.5M336.5 144.1h1.5M336.5 146.1h-1.5M338.5 141.0V145.5M338.5 144.0h1.5M338.5 144.2h-1.5M340.5 138.1V143.6M340.5 142.7h1.5M340.5 140.0h-1.5M342.5 135.6V140.7M342.5 137.0h1.5M342.5 137.0h-1.5M344.5 133.5V137.3M344.5 135.1h1.5M344.5 137.2h-1.5M346.5 131.3V136.0M346.5 135.6h1.5M346.5 131.7h-1.5M348.5 132.2V136.6M348.5 132.0h1.5M348.5 133.1h-1.5M350.5 132.8V136.7M350.5 136.0h1.5M350.5 134.0h-1.5M352.5 133.2V138.1M352.5 138.0h1.5M352.5 133.5h-1.5M355.5 132.0V136.5M355.5 132.8h1.5M355.5 133.1h-1.5M357.5 130.9V135.2M357.5 131.2h1.5M357.5 132.5h-1.5M359.5 129.1V134.2M359.5 133.3h1.5M359.5 132.1h-1.5M361.5 130.2V133.4M361.5 132.3h1.5M361.5 130.4h-1.5M363.5 130.4V134.1M363.5 131.7h1.5M363.5 134.0h-1.5M365.5 131.6V135.6M365.5 135.2h1.5M365.5 135.7h-1.5M367.5 131.6V136.2M367.5 131.9h1.5M367.5 135.6h-1.5M369.5 131.9V135.7M369.5 133.5h1.5M369.5 132.2h-1.5M371.5 131.3V134.3M371.5 131.2h1.5M371.5 132.9h-1.5M374.5 130.1V134.1M374.5 132.5h1.5M374.5 134.1h-1.5M376.5 131.3V134.6M376.5 131.5h1.5M376.5 131.3h-1.5M378.5 130.0V136.1M378.5 135.7h1.5M378.5 132.7h-1.5M380.5 130.6V136.8M380.5 135.3h1.5M380.5 132.2h-1.5M382.5 135.2V140.0M382.5 136.4h1.5M382.5 137.2h-1.5M384.5 133.0V137.3M384.5 136.5h1.5M384.5 137.3h-1.5M386.5 130.0V134.1M386.5 133.3h1.5M386.5 130.9h-1.5M388.5 128.2V133.3M388.5 130.4h1.5M388.5 131.1h-1.5M390.5 128.6V133.0M390.5 128.8h1.5M390.5 131.4h-1.5M392.5 129.4V133.8M392.5 131.1h1.5M392.5 129.9h-1.5M395.5 131.5V135.5M395.5 131.9h1.5M395.5 133.5h-1.5M397.5 129.6V134.7M397.5 133.3h1.5M397.5 133.5h-1.5M399.5 127.2V131.9M399.5 131.7h1.5M399.5 127.9h-1.5M401.5 120.2V125.8M401.5 121.0h1.5M401.5 125.5h-1.5M403.5 115.3V120.8M403.5 119.4h1.5M403.5 120.1h-1.5M405.5 113.3V117.5M405.5 116.9h1.5M405.5 114.6h-1.5M407.5 110.3V115.7M407.5 111.1h1.5M407.5 111.4h-1.5M409.5 107.8V112.6M409.5 108.9h1.5M409.5 112.7h-1.5M411.5 106.8V111.7M411.5 107.2h1.5M411.5 109.5h-1.5M414.5 104.3V110.0M414.5 107.4h1.5M414.5 109.0h-1.5M416.5 104.6V108.7M416.5 107.8h1.5M416.5 105.7h-1.5M418.5 104.7V110.8M418.5 107.3h1.5M418.5 105.6h-1.5M420.5 106.0V112.2M420.5 109.9h1.5M420.5 111.8h-1.5M422.5 106.8V112.3M422.5 107.4h1.5M422.5 108.0h-1.5M424.5 107.4V112.3M424.5 107.7h1.5M424.5 108.2h-1.5M426.5 105.8V110.8M426.5 106.5h1.5M426.5 107.8h-1.5M428.5 102.8V107.4M428.5 105.7h1.5M428.5 105.1h-1.5M430.5 102.7V106.7M430.5 103.4h1.5M430.5 105.6h-1.5M432.5 98.9V105.3M432.5 99.2h1.5M432.5 103.2h-1.5M435.5 98.5V104.0M435.5 103.5h1.5M435.5 102.4h-1.5M437.5 101.0V104.8M437.5 102.7h1.5M437.5 101.9h-1.5M439.5 101.2V104.3M439.5 104.6h1.5M439.5 101.6h-1.5M441.5 100.4V104.4M441.5 103.6h1.5M441.5 101.0h-1.5M443.5 102.7V106.3M443.5 105.8h1.5M443.5 105.5h-1.5M445.5 106.2V109.9M445.5 108.8h1.5M445.5 107.8h-1.5M447.5 107.5V111.8M447.5 109.4h1.5M447.5 111.1h-1.5M449.5 107.2V113.2M449.5 110.5h1.5M449.5 109.9h-1.5M451.5 109.4V114.8M451.5 114.8h1.5M451.5 110.5h-1.5M453.5 114.5V120.3M453.5 119.1h1.5M453.5 120.3h-1.5M456.5 114.2V120.2M456.5 115.7h1.5M456.5 119.3h-1.5M458.5 113.3V118.2M458.5 115.2h1.5M458.5 117.2h-1.5M460.5 115.2V120.3M460.5 118.0h1.5M460.5 116.6h-1.5M462.5 118.0V121.1M462.5 118.1h1.5M462.5 117.7h-1.5M464.5 120.2V124.1M464.5 120.7h1.5M464.5 120.8h-1.5M466.5 116.5V121.7M466.5 116.6h1.5M466.5 119.4h-1.5M470.5 104.4V108.9M470.5 104.3h1.5M470.5 108.0h-1.5M472.5 102.9V109.1M472.5 103.9h1.5M472.5 103.4h-1.5M475.5 103.3V109.2M475.5 106.9h1.5M475.5 104.8h-1.5M477.5 102.6V107.0M477.5 104.1h1.5M477.5 104.5h-1.5M479.5 102.5V105.6M479.5 103.6h1.5M479.5 103.4h-1.5M481.5 102.3V109.0M481.5 102.4h1.5M481.5 104.9h-1.5M483.5 104.9V109.4M483.5 107.3h1.5M483.5 105.7h-1.5M485.5 100.1V107.0M485.5 100.5h1.5M485.5 101.7h-1.5M487.5 97.8V103.3M487.5 100.8h1.5M487.5 102.6h-1.5M489.5 102.3V105.9M489.5 103.0h1.5M489.5 105.8h-1.5M491.5 106.3V110.8M491.5 106.8h1.5M491.5 109.0h-1.5M493.5 109.2V112.8M493.5 111.3h1.5M493.5 110.3h-1.5M496.5 106.6V112.0M496.5 111.1h1.5M496.5 107.1h-1.5M498.5 105.8V110.2M498.5 107.3h1.5M498.5 109.4h-1.5M500.5 104.0V108.0M500.5 106.9h1.5M500.5 106.5h-1.5M502.5 102.1V106.0M502.5 104.8h1.5M502.5 105.2h-1.5M504.5 102.5V106.8M504.5 103.0h1.5M504.5 104.3h-1.5M506.5 101.2V107.4M506.5 105.8h1.5M506.5 106.7h-1.5M508.5 102.0V105.9M508.5 104.3h1.5M508.5 102.8h-1.5M510.5 100.8V105.6M510.5 101.0h1.5M510.5 104.9h-1.5M512.5 103.0V107.0M512.5 105.5h1.5M512.5 104.4h-1.5M515.5 99.2V103.2M515.5 101.1h1.5M515.5 99.6h-1.5M519.5 90.3V95.5M519.5 93.5h1.5M519.5 92.6h-1.5M521.5 89.4V93.2M521.5 92.9h1.5M521.5 90.9h-1.5M523.5 87.5V93.2M523.5 91.8h1.5M523.5 92.6h-1.5M525.5 89.0V95.3M525.5 92.8h1.5M525.5 91.6h-1.5M527.5 90.9V95.2M527.5 94.6h1.5M527.5 94.2h-1.5M529.5 92.1V97.7M529.5 95.7h1.5M529.5 94.5h-1.5M531.5 91.9V97.2M531.5 96.3h1.5M531.5 94.0h-1.5M533.5 89.3V94.1M533.5 90.1h1.5M533.5 93.4h-1.5M536.5 86.0V92.4M536.5 89.6h1.5M536.5 90.8h-1.5M538.5 85.5V91.2M538.5 87.7h1.5M538.5 90.6h-1.5M540.5 84.9V89.0M540.5 85.2h1.5M540.5 89.0h-1.5M542.5 83.3V88.1M542.5 83.5h1.5M542.5 85.5h-1.5M544.5 84.0V89.2M544.5 85.4h1.5M544.5 88.0h-1.5M546.5 83.7V90.0M546.5 86.1h1.5M546.5 84.8h-1.5M548.5 85.1V89.4M548.5 86.9h1.5M548.5 87.3h-1.5M550.5 81.9V86.2M550.5 85.5h1.5M550.5 85.5h-1.5M552.5 77.8V83.7M552.5 82.7h1.5M552.5 80.1h-1.5M554.5 75.1V82.1M554.5 78.3h1.5M554.5 76.6h-1.5M557.5 75.2V79.0M557.5 76.6h1.5M557.5 77.2h-1.5M559.5 72.6V78.3M559.5 77.7h1.5M559.5 77.3h-1.5M561.5 72.8V76.9M561.5 73.1h1.5M561.5 75.9h-1.5M563.5 71.1V76.3M563.5 74.7h1.5M563.5 72.2h-1.5M565.5 72.0V75.7M565.5 73.2h1.5M565.5 72.4h-1.5M567.5 71.3V77.7M567.5 75.3h1.5M567.5 76.5h-1.5M569.5 71.5V77.8M569.5 72.4h1.5M569.5 75.5h-1.5M571.5 71.3V76.7M571.5 74.2h1.5M571.5 72.5h-1.5M573.5 67.5V72.7M573.5 70.2h1.5M573.5 68.6h-1.5M576.5 65.5V70.9M576.5 65.2h1.5M576.5 70.0h-1.5" stroke="#000" stroke-width="1" fill="none"/>
<path d="M39.5 194V203M39.5 203.5h1.5M39.5 203.5h-1.5M77.5 196V201M77.5 199.5h1.5M77.5 200.5h-1.5M81.5 194V198M81.5 197.5h1.5M81.5 196.5h-1.5M220.5 164.5V169.3M220.5 165.5h1.5M220.5 167.5h-1.5M222.5 157V164.5M222.5 159.5h1.5M222.5 161.5h-1.5M224.5 154.3V163.3M224.5 157.5h1.5M224.5 159.5h-1.5M325.5 145V151M325.5 147.5h1.5M325.5 149.5h-1.5M338.5 139.3V144.2M338.5 140.5h1.5M338.5 142.5h-1.5M401.5 114.2V124M401.5 118.5h1.5M401.5 120.5h-1.5M430.5 97V107.5M430.5 101.5h1.5M430.5 103.5h-1.5M437.5 100.7V106.7M437.5 102.5h1.5M437.5 104.5h-1.5M485.5 96V111M485.5 102.5h1.5M485.5 104.5h-1.5M514.5 97.5V105M514.5 100.5h1.5M514.5 102.5h-1.5M578.5 46.1V58.9M578.5 53.5h1.5M578.5 53.5h-1.5M580.5 37.1V49.9M580.5 44.5h1.5M580.5 44.5h-1.5" stroke="#ff0000" stroke-width="1" fill="none"/>
<path d="M81 232.5h1M87 232.5h1M94 232.5h1M100 232.5h1M106 232.5h1M113 232.5h1M119 232.5h1M125 232.5h1M132 232.5h1M138 232.5h1M144 232.5h1M151 232.5h1M157 232.5h1M163 232.5h1M169 232.5h1M176 232.5h1M182 232.5h1M188 232.5h1M195 232.5h1M201 232.5h1M207 232.5h1M214 232.5h1M220 232.5h1M226 232.5h1M233 232.5h1M239 232.5h1M245 232.5h1M252 232.5h1M258 232.5h1M264 232.5h1M270 232.5h1M277 232.5h1M283 232.5h1M289 232.5h1M296 232.5h1M302 232.5h1M308 232.5h1M315 232.5h1M321 232.5h1M327 232.5h1M334 232.5h1M340 232.5h1M346 232.5h1M352 232.5h1M359 232.5h1M365 232.5h1M371 232.5h1M378 232.5h1M384 232.5h1M390 232.5h1M397 232.5h1M403 232.5h1M409 232.5h1M416 232.5h1M422 232.5h1M428 232.5h1M435 232.5h1M441 232.5h1M447 232.5h1M453 232.5h1M460 232.5h1M466 232.5h1M472 232.5h1M479 232.5h1M485 232.5h1M491 232.5h1M498 232.5h1M504 232.5h1M510 232.5h1M517 232.5h1M523 232.5h1M529 232.5h1M536 232.5h1M542 232.5h1M548 232.5h1M554 232.5h1M561 232.5h1M567 232.5h1M573 232.5h1M580 232.5h1" stroke="#600050" stroke-width="1"/>
<path d="M81 255.5h1M87 255.5h1M94 255.5h1M100 255.5h1M106 255.5h1M113 255.5h1M119 255.5h1M125 255.5h1M132 255.5h1M138 255.5h1M144 255.5h1M151 255.5h1M157 255.5h1M163 255.5h1M169 255.5h1M176 255.5h1M182 255.5h1M188 255.5h1M195 255.5h1M201 255.5h1M207 255.5h1M214 255.5h1M220 255.5h1M226 255.5h1M233 255.5h1M239 255.5h1M245 255.5h1M252 255.5h1M258 255.5h1M264 255.5h1M270 255.5h1M277 255.5h1M283 255.5h1M289 255.5h1M296 255.5h1M302 255.5h1M308 255.5h1M315 255.5h1M321 255.5h1M327 255.5h1M334 255.5h1M340 255.5h1M346 255.5h1M352 255.5h1M359 255.5h1M365 255.5h1M371 255.5h1M378 255.5h1M384 255.5h1M390 255.5h1M397 255.5h1M403 255.5h1M409 255.5h1M416 255.5h1M422 255.5h1M428 255.5h1M435 255.5h1M441 255.5h1M447 255.5h1M453 255.5h1M460 255.5h1M466 255.5h1M472 255.5h1M479 255.5h1M485 255.5h1M491 255.5h1M498 255.5h1M504 255.5h1M510 255.5h1M517 255.5h1M523 255.5h1M529 255.5h1M536 255.5h1M542 255.5h1M548 255.5h1M554 255.5h1M561 255.5h1M567 255.5h1M573 255.5h1M580 255.5h1" stroke="#000" stroke-width="1"/>
<path d="M81 303.5h1M87 303.5h1M94 303.5h1M100 303.5h1M106 303.5h1M113 303.5h1M119 303.5h1M125 303.5h1M132 303.5h1M138 303.5h1M144 303.5h1M151 303.5h1M157 303.5h1M163 303.5h1M169 303.5h1M176 303.5h1M182 303.5h1M188 303.5h1M195 303.5h1M201 303.5h1M207 303.5h1M214 303.5h1M220 303.5h1M226 303.5h1M233 303.5h1M239 303.5h1M245 303.5h1M252 303.5h1M258 303.5h1M264 303.5h1M270 303.5h1M277 303.5h1M283 303.5h1M289 303.5h1M296 303.5h1M302 303.5h1M308 303.5h1M315 303.5h1M321 303.5h1M327 303.5h1M334 303.5h1M340 303.5h1M346 303.5h1M352 303.5h1M359 303.5h1M365 303.5h1M371 303.5h1M378 303.5h1M384 303.5h1M390 303.5h1M397 303.5h1M403 303.5h1M409 303.5h1M416 303.5h1M422 303.5h1M428 303.5h1M435 303.5h1M441 303.5h1M447 303.5h1M453 303.5h1M460 303.5h1M466 303.5h1M472 303.5h1M479 303.5h1M485 303.5h1M491 303.5h1M498 303.5h1M504 303.5h1M510 303.5h1M517 303.5h1M523 303.5h1M529 303.5h1M536 303.5h1M542 303.5h1M548 303.5h1M554 303.5h1M561 303.5h1M567 303.5h1M573 303.5h1M580 303.5h1" stroke="#600050" stroke-width="1"/>
<path d="M81 327.5h1M87 327.5h1M94 327.5h1M100 327.5h1M106 327.5h1M113 327.5h1M119 327.5h1M125 327.5h1M132 327.5h1M138 327.5h1M144 327.5h1M151 327.5h1M157 327.5h1M163 327.5h1M169 327.5h1M176 327.5h1M182 327.5h1M188 327.5h1M195 327.5h1M201 327.5h1M207 327.5h1M214 327.5h1M220 327.5h1M226 327.5h1M233 327.5h1M239 327.5h1M245 327.5h1M252 327.5h1M258 327.5h1M264 327.5h1M270 327.5h1M277 327.5h1M283 327.5h1M289 327.5h1M296 327.5h1M302 327.5h1M308 327.5h1M315 327.5h1M321 327.5h1M327 327.5h1M334 327.5h1M340 327.5h1M346 327.5h1M352 327.5h1M359 327.5h1M365 327.5h1M371 327.5h1M378 327.5h1M384 327.5h1M390 327.5h1M397 327.5h1M403 327.5h1M409 327.5h1M416 327.5h1M422 327.5h1M428 327.5h1M435 327.5h1M441 327.5h1M447 327.5h1M453 327.5h1M460 327.5h1M466 327.5h1M472 327.5h1M479 327.5h1M485 327.5h1M491 327.5h1M498 327.5h1M504 327.5h1M510 327.5h1M517 327.5h1M523 327.5h1M529 327.5h1M536 327.5h1M542 327.5h1M548 327.5h1M554 327.5h1M561 327.5h1M567 327.5h1M573 327.5h1M580 327.5h1" stroke="#000" stroke-width="1"/>
<path d="M106.5 276.5V279M108.5 278.7V279M111.5 277.0V279M113.5 276.6V279M127.5 275.5V279M129.5 272.0V279M132.5 274.6V279M134.5 276.5V279M136.5 275.1V279M138.5 276.3V279M140.5 279.0V279M142.5 276.1V279M144.5 277.5V279M146.5 275.6V279M163.5 275.9V279M165.5 274.9V279M167.5 273.9V279M169.5 273.2V279M172.5 275.1V279M174.5 277.3V279M176.5 274.6V279M178.5 268.1V279M180.5 272.9V279M182.5 266.0V279M184.5 272.5V279M186.5 273.6V279M188.5 271.4V279M190.5 272.8V279M193.5 272.1V279M195.5 271.7V279M197.5 271.8V279M199.5 272.9V279M201.5 276.3V279M203.5 277.3V279M205.5 276.1V279M207.5 276.8V279M209.5 276.3V279M212.5 277.5V279M220.5 266.8V279M222.5 248.5V279M224.5 252.6V279M226.5 253.7V279M228.5 251.5V279M230.5 249.9V279M233.5 252.6V279M235.5 251.0V279M237.5 249.2V279M239.5 247.1V279M241.5 245.3V279M243.5 243.9V279M245.5 242.8V279M247.5 244.4V279M249.5 247.0V279M252.5 249.9V279M254.5 251.2V279M256.5 251.9V279M258.5 250.2V279M260.5 248.9V279M262.5 248.7V279M264.5 256.1V279M266.5 271.3V279M268.5 265.2V279M270.5 269.7V279M273.5 274.1V279M275.5 277.8V279M300.5 277.1V279M302.5 276.7V279M304.5 278.2V279M317.5 275.0V279M319.5 273.2V279M321.5 274.5V279M323.5 276.9V279M325.5 273.0V279M327.5 272.9V279M329.5 274.9V279M331.5 274.2V279M334.5 274.3V279M336.5 274.5V279M338.5 269.8V279M340.5 265.5V279M342.5 262.0V279M344.5 258.5V279M346.5 261.7V279M348.5 258.5V279M350.5 257.3V279M352.5 257.1V279M355.5 257.9V279M357.5 258.3V279M359.5 257.5V279M361.5 258.2V279M363.5 257.4V279M365.5 254.9V279M367.5 253.0V279M369.5 251.1V279M371.5 249.1V279M374.5 248.4V279M376.5 248.1V279M378.5 247.6V279M380.5 247.0V279M382.5 255.4V279M384.5 258.0V279M386.5 258.0V279M388.5 262.2V279M390.5 263.5V279M392.5 263.6V279M395.5 263.6V279M397.5 266.0V279M399.5 262.5V279M401.5 253.2V279M403.5 249.0V279M405.5 246.9V279M407.5 245.7V279M409.5 245.2V279M411.5 243.4V279M414.5 241.1V279M416.5 248.0V279M418.5 250.2V279M420.5 251.6V279M422.5 254.4V279M424.5 253.0V279M426.5 255.1V279M428.5 256.4V279M430.5 257.3V279M432.5 259.0V279M435.5 259.0V279M437.5 258.8V279M439.5 259.3V279M441.5 258.0V279M443.5 262.9V279M445.5 269.9V279M447.5 275.3V279M449.5 278.8V279M464.5 279.0V279M466.5 275.5V279M468.5 276.5V279M470.5 272.1V279M472.5 272.8V279M475.5 273.8V279M477.5 274.7V279M479.5 275.0V279M481.5 271.9V279M483.5 271.5V279M485.5 266.9V279M487.5 263.1V279M489.5 262.2V279M491.5 262.5V279M493.5 261.1V279M496.5 259.0V279M498.5 262.5V279M500.5 259.4V279M502.5 256.2V279M504.5 254.8V279M506.5 255.9V279M508.5 254.3V279M510.5 258.2V279M512.5 257.2V279M515.5 253.7V279M517.5 252.3V279M519.5 251.4V279M521.5 250.7V279M523.5 252.9V279M525.5 258.0V279M527.5 261.5V279M529.5 265.1V279M531.5 267.4V279M533.5 263.3V279M536.5 258.9V279M538.5 256.4V279M540.5 254.2V279M542.5 251.6V279M544.5 253.7V279M546.5 255.9V279M548.5 255.7V279M550.5 255.6V279M552.5 255.9V279M554.5 253.5V279M557.5 252.6V279M559.5 254.4V279M561.5 258.0V279M563.5 261.2V279M565.5 264.2V279M567.5 264.1V279M569.5 262.7V279M571.5 259.9V279M573.5 257.4V279M576.5 255.1V279M578.5 259.2V279M580.5 263.8V279" stroke="#0000ff" stroke-width="1"/>
<path d="M81.5 280V290.8M83.5 280V286.6M85.5 280V286.3M87.5 280V287.6M89.5 280V285.5M92.5 280V288.7M94.5 280V289.1M96.5 280V287.2M98.5 280V289.5M100.5 280V287.3M102.5 280V283.8M115.5 280V281.5M117.5 280V285.8M119.5 280V288.0M121.5 280V289.5M123.5 280V297.5M125.5 280V287.5M148.5 280V280.3M151.5 280V283.5M153.5 280V285.3M155.5 280V286.5M157.5 280V287.9M159.5 280V285.4M161.5 280V281.2M214.5 280V280.1M216.5 280V283.6M218.5 280V284.0M277.5 280V280.4M279.5 280V283.4M281.5 280V286.9M283.5 280V285.9M285.5 280V285.4M287.5 280V285.4M289.5 280V286.0M291.5 280V286.8M294.5 280V284.4M296.5 280V281.3M306.5 280V282.4M308.5 280V283.1M310.5 280V282.2M313.5 280V282.8M451.5 280V283.5M453.5 280V280.2M456.5 280V281.7M458.5 280V285.5M460.5 280V284.8M462.5 280V281.8" stroke="#ff0000" stroke-width="1"/>
<polyline points="81.0,291.0 84.0,285.0 87.0,288.0 90.0,285.0 92.4,290.6 95.6,287.0 98.4,290.0 102.0,284.0 106.0,276.0 108.0,279.0 111.0,276.6 113.0,276.6 116.0,285.0 120.0,289.0 122.0,290.0 123.4,299.0 126.0,283.0 128.0,272.0 130.0,272.0 133.0,277.0 136.0,275.0 136.6,268.0 138.0,277.0 140.0,279.0 142.0,276.0 145.0,278.0 146.6,275.0 149.0,282.0 152.0,285.0 154.0,286.0 157.0,288.0 160.0,284.0 163.0,276.0 167.0,274.0 170.0,273.0 173.0,277.0 175.0,278.0 177.0,269.0 178.6,267.4 180.0,273.0 181.6,271.0 182.4,262.6 183.6,272.0 186.0,274.0 188.0,271.0 190.0,273.0 193.0,272.0 196.0,271.4 199.0,273.0 202.0,278.0 205.0,276.0 208.0,277.0 210.0,276.0 213.0,279.0 216.0,284.0 218.0,284.0 219.4,275.0 221.0,251.0 222.4,247.6 225.0,255.0 228.0,252.0 230.0,249.0 232.0,253.0 236.0,250.0 240.0,246.0 245.0,242.6 248.0,245.0 252.0,250.6 256.0,252.0 259.0,249.0 262.0,248.6 264.0,255.0 266.0,272.0 268.4,265.0 271.0,271.0 274.0,277.0 278.0,282.0 281.0,287.0 284.0,285.4 288.0,285.4 292.0,287.0 295.0,282.0 298.0,279.0 301.0,276.0 304.0,278.0 307.0,284.0 310.0,282.0 312.4,283.0 315.0,279.0 317.6,273.0 320.0,273.4 323.0,277.0 326.0,271.4 329.0,275.0 332.0,274.0 335.6,274.6 339.0,267.0 342.0,262.0 344.4,258.0 346.0,262.0 349.0,257.4 353.0,257.0 356.0,258.6 359.0,257.4 362.0,258.6 365.0,255.0 369.0,251.4 372.0,248.6 376.0,248.0 380.0,247.0 381.6,255.0 384.0,258.0 387.0,258.0 389.0,264.6 391.6,262.6 393.6,265.0 395.0,263.0 397.0,266.6 399.0,262.0 400.0,255.0 403.0,249.0 406.0,246.0 410.0,245.0 413.6,241.0 415.6,248.0 417.0,252.0 418.6,248.0 421.0,255.0 424.0,253.0 427.0,256.0 430.0,257.0 433.0,259.4 436.0,258.6 439.0,259.4 441.6,257.4 444.0,267.0 447.0,275.0 450.0,280.0 451.6,284.0 453.6,280.0 456.0,282.0 458.4,287.0 461.0,283.0 464.0,279.0 466.4,275.0 468.0,277.0 470.0,272.0 473.0,273.0 476.0,274.6 479.0,275.0 481.6,270.6 483.6,272.0 485.6,265.0 488.0,262.0 492.0,262.6 495.6,259.0 498.0,263.0 501.0,257.0 503.6,254.6 506.0,256.0 508.6,254.0 511.0,260.0 514.0,254.0 517.0,252.0 521.0,250.6 523.0,253.0 525.0,258.0 528.0,263.0 531.0,268.0 533.6,263.0 536.0,258.0 540.0,254.0 542.6,250.6 545.0,256.0 550.0,255.6 553.0,256.0 555.0,252.6 557.6,252.6 559.6,256.0 562.0,260.0 565.6,265.0 569.0,263.0 572.0,259.0 575.6,255.0 578.0,260.0 581.0,266.6" fill="none" stroke="#000" stroke-width="1" />
<polyline points="150.0,281.0 160.0,281.0 170.0,278.6 190.0,277.0 200.0,273.6 218.0,274.0 230.0,269.0 244.0,261.0 256.0,254.0 263.0,249.0 270.0,251.6 276.0,254.0 284.0,261.0 292.0,268.6 300.0,274.0 306.0,279.0 310.0,281.0 320.0,280.6 330.0,279.0 340.0,276.0 350.0,271.0 360.0,266.0 370.0,261.4 380.0,256.0 388.0,255.6 398.0,256.6 406.0,255.0 414.0,253.4 424.0,254.0 436.0,253.4 444.0,253.0 450.0,257.0 456.0,262.0 462.0,267.0 470.0,272.0 478.0,274.6 486.0,276.0 496.0,273.0 506.0,266.0 514.0,262.6 520.0,260.6 526.0,257.4 534.0,257.4 546.0,256.6 558.0,256.6 566.0,258.0 574.0,258.0 580.0,257.4" fill="none" stroke="#000" stroke-width="1" />
<path d="M401.5 198V186M397.2 191L401.5 186L405.8 191" stroke="#ff0000" stroke-width="1" fill="none"/>
<path d="M220.5 235.6V225M216.2 230L220.5 225L224.8 230" stroke="#ff0000" stroke-width="1" fill="none"/>
<line x1="43.5" y1="336" x2="43.5" y2="350" stroke="#808000" stroke-width="1"/>
<line x1="87.5" y1="336" x2="87.5" y2="350" stroke="#808000" stroke-width="1"/>
<line x1="134.5" y1="336" x2="134.5" y2="350" stroke="#808000" stroke-width="1"/>
<line x1="176.5" y1="336" x2="176.5" y2="350" stroke="#808000" stroke-width="1"/>
<line x1="224.5" y1="336" x2="224.5" y2="350" stroke="#808000" stroke-width="1"/>
<line x1="268.5" y1="336" x2="268.5" y2="350" stroke="#808000" stroke-width="1"/>
<line x1="313.5" y1="336" x2="313.5" y2="350" stroke="#808000" stroke-width="1"/>
<line x1="357.5" y1="336" x2="357.5" y2="350" stroke="#808000" stroke-width="1"/>
<line x1="401.5" y1="336" x2="401.5" y2="350" stroke="#808000" stroke-width="1"/>
<line x1="443.5" y1="336" x2="443.5" y2="350" stroke="#808000" stroke-width="1"/>
<line x1="483.5" y1="336" x2="483.5" y2="350" stroke="#808000" stroke-width="1"/>
<line x1="531.5" y1="336" x2="531.5" y2="350" stroke="#808000" stroke-width="1"/>
<line x1="571.5" y1="336" x2="571.5" y2="350" stroke="#808000" stroke-width="1"/>
<rect x="40" y="61" width="336" height="3" fill="#0000ff"/>
<text x="38" y="12" font-size="12" font-weight="bold" fill="#000" text-anchor="start" textLength="180" lengthAdjust="spacing" stroke="#000" stroke-width="0.3">Last drawn moving average= 10</text>
<text x="38" y="24.5" font-size="12" font-weight="bold" fill="#000" text-anchor="start" textLength="26.5" lengthAdjust="spacing" stroke="#000" stroke-width="0.3">MDR</text>
<text x="38" y="34.5" font-size="12" font-weight="bold" fill="#000" text-anchor="start" textLength="120" lengthAdjust="spacing" stroke="#000" stroke-width="0.3">4/28/2005-5/5/2006</text>
<text y="58.7" font-size="12" font-weight="bold" fill="#0000ff" stroke="#0000ff" stroke-width="0.3"><tspan x="49.6" textLength="28.4" lengthAdjust="spacing">What</tspan> <tspan x="84.4" textLength="14.6" lengthAdjust="spacing">Do</tspan> <tspan x="103.6" textLength="21.4" lengthAdjust="spacing">You</tspan> <tspan x="130" textLength="15.0" lengthAdjust="spacing">Do</tspan> <tspan x="151" textLength="31.0" lengthAdjust="spacing">When</tspan> <tspan x="187" textLength="21.4" lengthAdjust="spacing">You</tspan> <tspan x="213.6" textLength="30.4" lengthAdjust="spacing">Stock</tspan> <tspan x="249.6" textLength="27.4" lengthAdjust="spacing">Goes</tspan> <tspan x="283" textLength="66.0" lengthAdjust="spacing">Hyperbolic?</tspan></text>
<text x="421.7" y="24.8" font-size="12" font-weight="bold" fill="#000" text-anchor="start" textLength="159.3" lengthAdjust="spacing" stroke="#000" stroke-width="0.3">(C) 2006, www.tigersoft.com</text>
<text x="604" y="51.6" font-size="12" font-weight="bold" fill="#0000ff" text-anchor="start" stroke="#0000ff" stroke-width="0.3">Upper channel has</text>
<text x="604" y="64.75" font-size="12" font-weight="bold" fill="#0000ff" text-anchor="start" stroke="#0000ff" stroke-width="0.3">been broken above</text>
<text x="604" y="77.9" font-size="12" font-weight="bold" fill="#0000ff" text-anchor="start" stroke="#0000ff" stroke-width="0.3">as MDR surpasses</text>
<text x="604" y="91.05000000000001" font-size="12" font-weight="bold" fill="#0000ff" text-anchor="start" stroke="#0000ff" stroke-width="0.3">68.</text>
<text x="5.5" y="51.5" font-size="12" font-weight="bold" fill="#000" text-anchor="start" textLength="14" lengthAdjust="spacing" stroke="#000" stroke-width="0.3">70</text>
<text x="5.5" y="67.5" font-size="12" font-weight="bold" fill="#000" text-anchor="start" textLength="14" lengthAdjust="spacing" stroke="#000" stroke-width="0.3">65</text>
<text x="5.5" y="83.5" font-size="12" font-weight="bold" fill="#000" text-anchor="start" textLength="14" lengthAdjust="spacing" stroke="#000" stroke-width="0.3">60</text>
<text x="5.5" y="99.5" font-size="12" font-weight="bold" fill="#000" text-anchor="start" textLength="14" lengthAdjust="spacing" stroke="#000" stroke-width="0.3">55</text>
<text x="5.5" y="114.5" font-size="12" font-weight="bold" fill="#000" text-anchor="start" textLength="14" lengthAdjust="spacing" stroke="#000" stroke-width="0.3">50</text>
<text x="5.5" y="130.5" font-size="12" font-weight="bold" fill="#000" text-anchor="start" textLength="14" lengthAdjust="spacing" stroke="#000" stroke-width="0.3">45</text>
<text x="5.5" y="146.5" font-size="12" font-weight="bold" fill="#000" text-anchor="start" textLength="14" lengthAdjust="spacing" stroke="#000" stroke-width="0.3">40</text>
<text x="5.5" y="162.5" font-size="12" font-weight="bold" fill="#000" text-anchor="start" textLength="14" lengthAdjust="spacing" stroke="#000" stroke-width="0.3">35</text>
<text x="5.5" y="178.5" font-size="12" font-weight="bold" fill="#000" text-anchor="start" textLength="14" lengthAdjust="spacing" stroke="#000" stroke-width="0.3">30</text>
<text x="5.5" y="194.5" font-size="12" font-weight="bold" fill="#000" text-anchor="start" textLength="14" lengthAdjust="spacing" stroke="#000" stroke-width="0.3">25</text>
<g clip-path="url(#c)"><text x="5.5" y="209.5" font-size="12" font-weight="bold" fill="#000" text-anchor="start" textLength="14" lengthAdjust="spacing" stroke="#000" stroke-width="0.3">20</text></g>
<text x="54" y="237" font-size="12" font-weight="bold" fill="#000" text-anchor="start" textLength="23.6" lengthAdjust="spacing" stroke="#000" stroke-width="0.3">+.50</text>
<text x="54" y="261" font-size="12" font-weight="bold" fill="#000" text-anchor="start" textLength="23.6" lengthAdjust="spacing" stroke="#000" stroke-width="0.3">+.25</text>
<text x="54" y="307.6" font-size="12" font-weight="bold" fill="#000" text-anchor="start" textLength="20.7" lengthAdjust="spacing" stroke="#000" stroke-width="0.3">-.25</text>
<text x="54" y="332" font-size="12" font-weight="bold" fill="#000" text-anchor="start" textLength="20.7" lengthAdjust="spacing" stroke="#000" stroke-width="0.3">-.50</text>
<text x="1.6" y="263.3" font-size="12" font-weight="bold" fill="#000" text-anchor="start" textLength="37.4" lengthAdjust="spacing" stroke="#000" stroke-width="0.3">Accum</text>
<text x="1.6" y="273.6" font-size="12" font-weight="bold" fill="#000" text-anchor="start" textLength="30" lengthAdjust="spacing" stroke="#000" stroke-width="0.3">Index</text>
<text x="1.2" y="284.8" font-size="12" font-weight="bold" fill="#000" text-anchor="start" textLength="70" lengthAdjust="spacing" stroke="#000" stroke-width="0.3">AI= 176/200</text>
<text x="55" y="350.2" font-size="12" font-weight="bold" fill="#000" text-anchor="start" textLength="22" lengthAdjust="spacing" stroke="#000" stroke-width="0.3">May</text>
<text x="98.5" y="350.2" font-size="12" font-weight="bold" fill="#000" text-anchor="start" textLength="19.5" lengthAdjust="spacing" stroke="#000" stroke-width="0.3">Jun</text>
<text x="144.3" y="350.2" font-size="12" font-weight="bold" fill="#000" text-anchor="start" textLength="16.7" lengthAdjust="spacing" stroke="#000" stroke-width="0.3">Jul</text>
<text x="186" y="350.2" font-size="12" font-weight="bold" fill="#000" text-anchor="start" textLength="22.6" lengthAdjust="spacing" stroke="#000" stroke-width="0.3">Aug</text>
<text x="235.6" y="350.2" font-size="12" font-weight="bold" fill="#000" text-anchor="start" textLength="21.8" lengthAdjust="spacing" stroke="#000" stroke-width="0.3">Sep</text>
<text x="279.6" y="350.2" font-size="12" font-weight="bold" fill="#000" text-anchor="start" textLength="19.4" lengthAdjust="spacing" stroke="#000" stroke-width="0.3">Oct</text>
<text x="324" y="350.2" font-size="12" font-weight="bold" fill="#000" text-anchor="start" textLength="22" lengthAdjust="spacing" stroke="#000" stroke-width="0.3">Nov</text>
<text x="367.6" y="350.2" font-size="12" font-weight="bold" fill="#000" text-anchor="start" textLength="22.8" lengthAdjust="spacing" stroke="#000" stroke-width="0.3">Dec</text>
<text x="411" y="350.2" font-size="12" font-weight="bold" fill="#000" text-anchor="start" textLength="20" lengthAdjust="spacing" stroke="#000" stroke-width="0.3">Jan</text>
<text x="453.6" y="350.2" font-size="12" font-weight="bold" fill="#000" text-anchor="start" textLength="20.4" lengthAdjust="spacing" stroke="#000" stroke-width="0.3">Feb</text>
<text x="493.6" y="350.2" font-size="12" font-weight="bold" fill="#000" text-anchor="start" textLength="20.8" lengthAdjust="spacing" stroke="#000" stroke-width="0.3">Mar</text>
<text x="542.4" y="350.2" font-size="12" font-weight="bold" fill="#000" text-anchor="start" textLength="18.6" lengthAdjust="spacing" stroke="#000" stroke-width="0.3">Apr</text>
<text x="583" y="350.2" font-size="12" font-weight="bold" fill="#000" text-anchor="start" textLength="22" lengthAdjust="spacing" stroke="#000" stroke-width="0.3">May</text>
<text x="11.4" y="360.2" font-size="12" font-weight="bold" fill="#000" text-anchor="start" textLength="567.6" lengthAdjust="spacing" stroke="#000" stroke-width="0.3">Accum.Index: Look for consistently positive/negative readings, bulges above +.40 and blatant NC's.</text>
<text x="408" y="206.5" font-size="16" font-weight="normal" fill="#000" text-anchor="start" textLength="29.5" lengthAdjust="spacing" stroke="#000" stroke-width="0.35">B10</text>
<text x="227" y="245.6" font-size="16" font-weight="normal" fill="#000" text-anchor="start" textLength="29" lengthAdjust="spacing" stroke="#000" stroke-width="0.35">B20</text>
</svg>
</body></html>
